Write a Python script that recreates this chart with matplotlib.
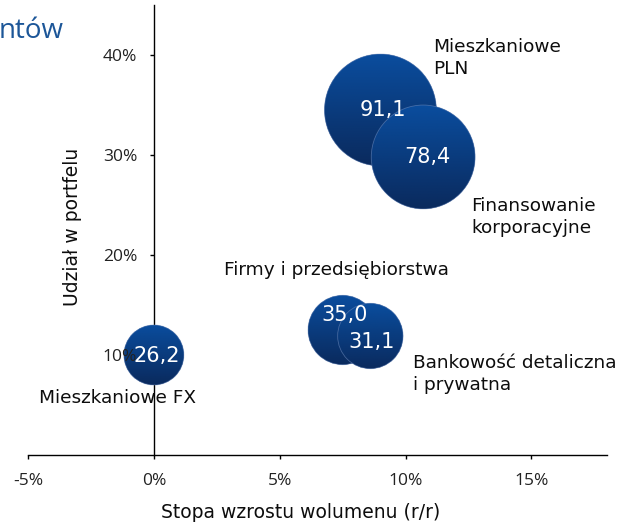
import numpy as np
import matplotlib
matplotlib.use("Agg")
import matplotlib.pyplot as plt
from matplotlib.patches import Ellipse
from matplotlib.colors import LinearSegmentedColormap
from matplotlib.ticker import FuncFormatter

# data: growth rate (%), share in portfolio (%), volume (bubble size)
names = ["Mieszkaniowe\nPLN", "Finansowanie\nkorporacyjne", "Firmy i przedsiębiorstwa",
         "Bankowość detaliczna\ni prywatna", "Mieszkaniowe FX"]
growth = [9.0, 10.7, 7.5, 8.6, 0.0]
share = [34.5, 29.8, 12.5, 11.9, 10.0]
volume = [91.1, 78.4, 35.0, 31.1, 26.2]
value_labels = ["91,1", "78,4", "35,0", "31,1", "26,2"]

# label positions (data coords) and value label offsets (points)
name_pos = [(11.1, 39.7), (12.6, 23.8), (2.8, 18.5), (10.3, 8.1), (-4.55, 5.7)]
value_off = [(2, 0), (3, 0), (1, 11), (1, -4), (2, -1)]

x_ticks = [-5, 0, 5, 10, 15]
y_ticks = [10, 20, 30, 40]

W, H = 623, 524
ax_px = (28, 69, 579, 450)  # left, bottom, width, height in pixels
xlim = (-5, 18)
ylim = (0, 45)

fig = plt.figure(figsize=(W / 100, H / 100), dpi=100)
ax = fig.add_axes([ax_px[0] / W, ax_px[1] / H, ax_px[2] / W, ax_px[3] / H])

ppx = ax_px[2] / (xlim[1] - xlim[0])
ppy = ax_px[3] / (ylim[1] - ylim[0])
k = 56 ** 2 / 91.1  # px^2 per volume unit

cmap = LinearSegmentedColormap.from_list("bub", ["#0a4d9e", "#0a2a5d"])
grad = np.linspace(0, 1, 256).reshape(-1, 1)

for i, (x, y, v) in enumerate(zip(growth, share, volume)):
    r = np.sqrt(v * k)
    w, h = 2 * r / ppx, 2 * r / ppy
    z = 1.0 + i * 0.08
    e = Ellipse((x, y), w, h, facecolor="#0a3a7c", edgecolor="none", zorder=z)
    ax.add_patch(e)
    im = ax.imshow(grad, cmap=cmap, extent=[x - w / 2, x + w / 2, y - h / 2, y + h / 2],
                   origin="upper", aspect="auto", zorder=z + 0.01, interpolation="bilinear")
    im.set_clip_path(e)
    ax.add_patch(Ellipse((x, y), w, h, fill=False, edgecolor="#7d96c4", lw=0.6,
                         alpha=0.5, zorder=z + 0.02))
    ax.annotate(value_labels[i], (x, y), xytext=value_off[i], textcoords="offset points",
                ha="center", va="center", color="white", fontsize=15,
                family="DejaVu Sans", zorder=5)

for n, (px, py) in zip(names, name_pos):
    ax.text(px, py, n, ha="left", va="center", fontsize=13.3, color="#0d0d0d",
            family="DejaVu Sans", linespacing=1.35, zorder=5)

ax.set_xlim(*xlim)
ax.set_ylim(*ylim)
ax.set_xticks(x_ticks)
ax.set_yticks(y_ticks)
ax.xaxis.set_major_formatter(FuncFormatter(lambda v, p: f"{v:.0f}%".replace("\u2212", "-")))
ax.yaxis.set_major_formatter(FuncFormatter(lambda v, p: f"{v:.0f}%"))

for s in ["top", "right"]:
    ax.spines[s].set_visible(False)
ax.spines["left"].set_position(("data", 0))
ax.spines["left"].set_zorder(0.5)
for s in ["left", "bottom"]:
    ax.spines[s].set_linewidth(1.0)
    ax.spines[s].set_color("black")

ax.tick_params(axis="both", direction="out", length=3, width=1, colors="black",
               labelcolor="#222222")
ax.tick_params(axis="y", pad=9)
ax.tick_params(axis="x", pad=10)
for lab in ax.get_xticklabels() + ax.get_yticklabels():
    lab.set_family("Open Sans")
    lab.set_fontsize(12.5)

# tick mark hidden behind the FX bubble
for t in ax.yaxis.get_major_ticks():
    if abs(t.get_loc() - 10) < 1e-6:
        t.tick1line.set_visible(False)

fig.text(301 / W, 1 - 512 / H, "Stopa wzrostu wolumenu (r/r)", ha="center", va="center",
         fontsize=13.5, color="#0d0d0d", family="DejaVu Sans")
fig.text(73 / W, 1 - 227 / H, "Udział w portfelu", ha="center", va="center", rotation=90,
         fontsize=13.5, color="#0d0d0d", family="DejaVu Sans")
fig.text(64 / W, 1 - 31 / H, "ntów", ha="right", va="center", fontsize=20,
         color="#1c5698", family="Open Sans")

fig.savefig("out.png", dpi=100)
